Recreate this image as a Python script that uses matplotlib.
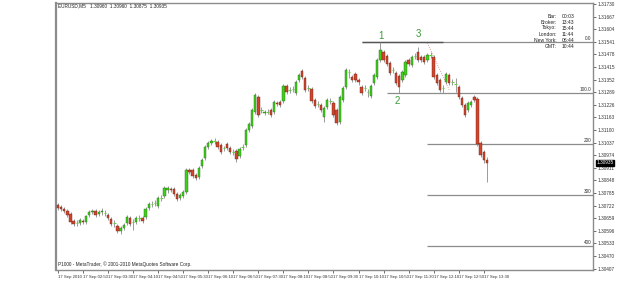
import numpy as np
import matplotlib.pyplot as plt
import matplotlib.transforms as mtransforms

plt.rcParams['font.family'] = ['Liberation Sans', 'DejaVu Sans']

# EURUSD M5, 17 Sep 2010 - OHLC
opens = [1.30725, 1.30715, 1.30705, 1.30695, 1.30680, 1.30645, 1.30635, 1.30635, 1.30645, 1.30640,
         1.30675, 1.30690, 1.30695, 1.30680, 1.30690, 1.30685, 1.30675, 1.30655, 1.30635, 1.30620,
         1.30595, 1.30610, 1.30635, 1.30660, 1.30640, 1.30640, 1.30660, 1.30660, 1.30665, 1.30710,
         1.30730, 1.30735, 1.30720, 1.30760, 1.30770, 1.30800, 1.30805, 1.30805, 1.30780, 1.30760,
         1.30770, 1.30790, 1.30900, 1.30900, 1.30875, 1.30865, 1.30920, 1.30960, 1.31015, 1.31035,
         1.31045, 1.31040, 1.31025, 1.31010, 1.31030, 1.31010, 1.30990, 1.30995, 1.30970, 1.31015,
         1.31025, 1.31100, 1.31120, 1.31190, 1.31265, 1.31200, 1.31185, 1.31190, 1.31200, 1.31190,
         1.31235, 1.31240, 1.31245, 1.31320, 1.31300, 1.31305, 1.31285, 1.31350, 1.31395, 1.31360,
         1.31310, 1.31305, 1.31250, 1.31230, 1.31225, 1.31165, 1.31215, 1.31245, 1.31235, 1.31200,
         1.31140, 1.31250, 1.31315, 1.31390, 1.31365, 1.31380, 1.31350, 1.31315, 1.31310, 1.31290,
         1.31270, 1.31335, 1.31365, 1.31450, 1.31490, 1.31470, 1.31435, 1.31400, 1.31385, 1.31370,
         1.31350, 1.31375, 1.31450, 1.31425, 1.31470, 1.31490, 1.31465, 1.31465, 1.31450, 1.31475,
         1.31465, 1.31375, 1.31350, 1.31310, 1.31340, 1.31375, 1.31340, 1.31330, 1.31315, 1.31260,
         1.31225, 1.31200, 1.31225, 1.31265, 1.31255, 1.31035, 1.30990, 1.30950]
closes = [1.30710, 1.30705, 1.30695, 1.30675, 1.30640, 1.30630, 1.30635, 1.30650, 1.30640, 1.30670,
          1.30690, 1.30695, 1.30675, 1.30690, 1.30695, 1.30685, 1.30660, 1.30630, 1.30635, 1.30595,
          1.30610, 1.30625, 1.30665, 1.30630, 1.30640, 1.30660, 1.30660, 1.30645, 1.30705, 1.30730,
          1.30730, 1.30735, 1.30760, 1.30760, 1.30810, 1.30810, 1.30800, 1.30780, 1.30755, 1.30775,
          1.30790, 1.30900, 1.30890, 1.30870, 1.30860, 1.30910, 1.30950, 1.31015, 1.31035, 1.31045,
          1.31045, 1.31015, 1.30990, 1.31010, 1.31010, 1.30990, 1.30990, 1.30955, 1.31005, 1.31015,
          1.31100, 1.31130, 1.31200, 1.31275, 1.31175, 1.31200, 1.31190, 1.31190, 1.31175, 1.31240,
          1.31230, 1.31225, 1.31320, 1.31290, 1.31300, 1.31305, 1.31340, 1.31375, 1.31365, 1.31300,
          1.31310, 1.31245, 1.31220, 1.31230, 1.31200, 1.31210, 1.31250, 1.31245, 1.31175, 1.31135,
          1.31265, 1.31310, 1.31400, 1.31390, 1.31350, 1.31350, 1.31340, 1.31285, 1.31310, 1.31290,
          1.31320, 1.31375, 1.31450, 1.31500, 1.31450, 1.31430, 1.31385, 1.31400, 1.31335, 1.31315,
          1.31390, 1.31440, 1.31430, 1.31465, 1.31470, 1.31450, 1.31450, 1.31440, 1.31475, 1.31475,
          1.31365, 1.31335, 1.31300, 1.31310, 1.31380, 1.31335, 1.31340, 1.31330, 1.31265, 1.31225,
          1.31175, 1.31235, 1.31240, 1.31250, 1.31030, 1.30975, 1.30950, 1.30935]
highs = [1.30735, 1.30725, 1.30715, 1.30705, 1.30690, 1.30655, 1.30650, 1.30660, 1.30655, 1.30675,
         1.30700, 1.30705, 1.30705, 1.30700, 1.30710, 1.30700, 1.30685, 1.30665, 1.30650, 1.30630,
         1.30620, 1.30635, 1.30675, 1.30670, 1.30655, 1.30670, 1.30675, 1.30670, 1.30715, 1.30740,
         1.30745, 1.30750, 1.30770, 1.30775, 1.30820, 1.30820, 1.30815, 1.30815, 1.30790, 1.30785,
         1.30800, 1.30910, 1.30910, 1.30910, 1.30885, 1.30920, 1.30960, 1.31025, 1.31045, 1.31055,
         1.31060, 1.31050, 1.31035, 1.31020, 1.31040, 1.31020, 1.31005, 1.31005, 1.31015, 1.31030,
         1.31110, 1.31140, 1.31210, 1.31285, 1.31275, 1.31215, 1.31200, 1.31205, 1.31210, 1.31250,
         1.31245, 1.31250, 1.31330, 1.31330, 1.31315, 1.31320, 1.31350, 1.31385, 1.31405, 1.31370,
         1.31325, 1.31315, 1.31260, 1.31245, 1.31235, 1.31220, 1.31260, 1.31260, 1.31245, 1.31210,
         1.31275, 1.31320, 1.31410, 1.31405, 1.31375, 1.31390, 1.31360, 1.31325, 1.31325, 1.31305,
         1.31330, 1.31385, 1.31460, 1.31540, 1.31500, 1.31480, 1.31445, 1.31415, 1.31395, 1.31380,
         1.31400, 1.31450, 1.31460, 1.31475, 1.31485, 1.31515, 1.31475, 1.31475, 1.31485, 1.31490,
         1.31475, 1.31385, 1.31360, 1.31325, 1.31390, 1.31385, 1.31355, 1.31360, 1.31325, 1.31270,
         1.31235, 1.31245, 1.31250, 1.31275, 1.31265, 1.31045, 1.31000, 1.30965]
lows = [1.30700, 1.30695, 1.30685, 1.30665, 1.30630, 1.30620, 1.30620, 1.30625, 1.30630, 1.30630,
        1.30665, 1.30680, 1.30665, 1.30670, 1.30675, 1.30670, 1.30650, 1.30620, 1.30615, 1.30585,
        1.30580, 1.30600, 1.30625, 1.30620, 1.30600, 1.30630, 1.30645, 1.30635, 1.30655, 1.30700,
        1.30715, 1.30720, 1.30710, 1.30745, 1.30760, 1.30785, 1.30790, 1.30770, 1.30745, 1.30750,
        1.30760, 1.30780, 1.30880, 1.30860, 1.30850, 1.30855, 1.30910, 1.30950, 1.31005, 1.31025,
        1.31030, 1.31005, 1.30980, 1.30995, 1.31000, 1.30980, 1.30975, 1.30940, 1.30960, 1.31000,
        1.31015, 1.31090, 1.31110, 1.31180, 1.31165, 1.31185, 1.31175, 1.31180, 1.31165, 1.31180,
        1.31220, 1.31215, 1.31235, 1.31280, 1.31285, 1.31290, 1.31275, 1.31340, 1.31355, 1.31290,
        1.31295, 1.31235, 1.31210, 1.31215, 1.31190, 1.31140, 1.31205, 1.31230, 1.31165, 1.31125,
        1.31130, 1.31240, 1.31305, 1.31360, 1.31340, 1.31340, 1.31325, 1.31275, 1.31295, 1.31265,
        1.31260, 1.31325, 1.31355, 1.31440, 1.31440, 1.31420, 1.31375, 1.31385, 1.31325, 1.31285,
        1.31340, 1.31365, 1.31420, 1.31415, 1.31455, 1.31440, 1.31440, 1.31430, 1.31440, 1.31460,
        1.31355, 1.31325, 1.31290, 1.31285, 1.31330, 1.31325, 1.31325, 1.31290, 1.31255, 1.31215,
        1.31165, 1.31190, 1.31215, 1.31240, 1.31020, 1.30965, 1.30935, 1.30840]

time_labels = ['17 Sep 2010', '17 Sep 02:50', '17 Sep 03:30', '17 Sep 04:10', '17 Sep 04:50',
               '17 Sep 05:30', '17 Sep 06:10', '17 Sep 06:50', '17 Sep 07:30', '17 Sep 08:10',
               '17 Sep 08:50', '17 Sep 09:30', '17 Sep 10:10', '17 Sep 10:50', '17 Sep 11:30',
               '17 Sep 12:10', '17 Sep 12:50', '17 Sep 13:30']
price_ticks = [1.31730, 1.31667, 1.31604, 1.31541, 1.31478, 1.31415, 1.31352, 1.31289, 1.31226,
               1.31163, 1.31100, 1.31037, 1.30974, 1.30911, 1.30848, 1.30785, 1.30722, 1.30659,
               1.30596, 1.30533, 1.30470, 1.30407]

# fibo expansion: 0.0 at top 1, 100.0 at low 2
fibo_levels = [0, 100, 200, 300, 400]
fibo_names = ['0.0', '100.0', '200', '300', '400']
fibo_0 = 1.31540
fibo_100 = 1.31285

info_names = ['Bar:', 'Broker:', 'Tokyo:', 'London:', 'New York:', 'GMT:']
info_times = ['00:03', '13:43', '15:44', '11:44', '06:44', '10:44']

fig = plt.figure(figsize=(6.25, 2.95), dpi=100)
ax = fig.add_axes([56 / 625, 1 - 270 / 295, (593 - 56) / 625, 267 / 295])

n = len(opens)
x = np.arange(n)
o = np.array(opens)
c = np.array(closes)

ax.vlines(x, lows, highs, color='#8a8a8a', lw=0.6, zorder=2)
up = c > o
dn = c < o
eq = c == o
ax.bar(x[up], (c - o)[up], bottom=o[up], width=0.75, color='#3fd01a',
       edgecolor='#2a6a1a', linewidth=0.3, zorder=3)
ax.bar(x[dn], (o - c)[dn], bottom=c[dn], width=0.75, color='#d2442c',
       edgecolor='#6a2a1a', linewidth=0.3, zorder=3)
ax.hlines(o[eq], x[eq] - 0.4, x[eq] + 0.4, color='#66cc44', lw=0.8, zorder=3)

xmax = 170.9
# fibo levels
starts = [97, 105, 118, 118, 118]
for lvl, name, s in zip(fibo_levels, fibo_names, starts):
    p = fibo_0 - (fibo_0 - fibo_100) * lvl / 100
    ax.hlines(p, s, xmax, color='#8c8c8c', lw=0.9, zorder=1)
    ax.text(xmax - 0.6, p + 0.00003, name, fontsize=3.4, ha='right', va='bottom', color='#333333')
ax.hlines(fibo_0, 97, 123, color='#555555', lw=1.0, zorder=1)

# trendline down from top 3
ax.plot([118, 125], [1.31535, 1.31300], color='#e08080', lw=0.6, ls=':', zorder=1)

ax.text(103.2, 1.31570, '1', color='#3a9a3a', fontsize=7, ha='center', va='center')
ax.text(115.0, 1.31580, '3', color='#3a9a3a', fontsize=7, ha='center', va='center')
ax.text(108.3, 1.31245, '2', color='#3a9a3a', fontsize=7, ha='center', va='center')

ax.set_xlim(-0.64, xmax)
ax.set_ylim(1.30400, 1.31735)

ax.yaxis.tick_right()
ax.set_yticks(price_ticks)
ax.set_yticklabels(['%.5f' % v for v in price_ticks], fontsize=3.4)
ax.set_xticks(np.arange(0, 8 * len(time_labels), 8))
ax.set_xticklabels(time_labels, fontsize=3.1, ha='left')
ax.tick_params(axis='both', length=2, width=0.5, pad=1.5, colors='#333333')
for sp in ax.spines.values():
    sp.set_color('#8c8c8c')
    sp.set_linewidth(1.0)
ax.spines['left'].set_linewidth(1.6)

# current price box
tr = mtransforms.blended_transform_factory(ax.transAxes, ax.transData)
ax.text(1.006, closes[-1], '%.5f' % closes[-1], transform=tr, fontsize=3.4, color='white',
        va='center', ha='left', bbox=dict(boxstyle='square,pad=0.15', fc='black', ec='black'))

# header and footer
fig.text(58 / 625, 1 - 6 / 295, 'EURUSD,M5   1.30960  1.30960  1.30875  1.30935',
         fontsize=3.4, va='center', color='#222222')
fig.text(58 / 625, 1 - 264 / 295, 'P1000 - MetaTrader, \u00a9 2001-2010 MetaQuotes Software Corp.',
         fontsize=3.4, va='center', color='#222222')

for k, (nm, tm) in enumerate(zip(info_names, info_times)):
    yy = 1 - (16 + 6 * k) / 295
    fig.text(557 / 625, yy, nm, fontsize=3.6, ha='right', va='center', color='#222222')
    fig.text(562 / 625, yy, tm, fontsize=3.6, ha='left', va='center', color='#222222')

fig.savefig('out.png', dpi=100)
